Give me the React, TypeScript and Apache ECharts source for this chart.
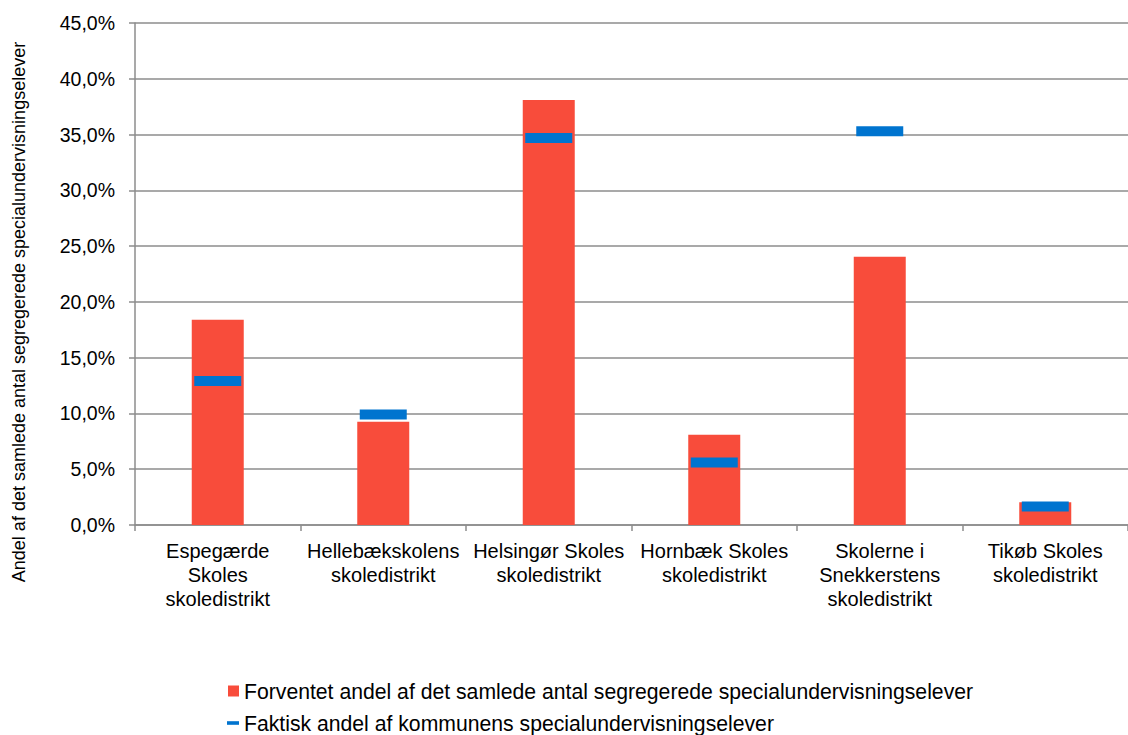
import React, { useEffect, useRef } from "react";
import * as echarts from "echarts";

const categories = [
  "Espegærde\nSkoles\nskoledistrikt",
  "Hellebækskolens\nskoledistrikt",
  "Helsingør Skoles\nskoledistrikt",
  "Hornbæk Skoles\nskoledistrikt",
  "Skolerne i\nSnekkerstens\nskoledistrikt",
  "Tikøb Skoles\nskoledistrikt",
];
const expected = [18.4, 9.25, 38.1, 8.1, 24.05, 2.05];
const actual = [12.9, 9.9, 34.7, 5.6, 35.3, 1.65];
const seriesNames = [
  "Forventet andel af det samlede antal segregerede specialundervisningselever",
  "Faktisk andel af kommunens specialundervisningselever",
];
const yTitle = "Andel af det samlede antal segregerede specialundervisningselever";

const FONT = "'Liberation Sans', Arial, sans-serif";

export default function App() {
  const ref = useRef<HTMLDivElement>(null);
  useEffect(() => {
    document.body.style.margin = "0";
    const chart = echarts.init(ref.current!, null, { renderer: "svg" });
    const legendText = { color: "#000", fontSize: 21.2, fontFamily: FONT, lineHeight: 22 };
    chart.setOption({
      animation: false,
      textStyle: { fontFamily: FONT },
      grid: { left: 135, right: -7, top: 23, bottom: 210 },
      xAxis: {
        type: "category",
        data: categories,
        boundaryGap: true,
        axisLine: { lineStyle: { color: "#8c8c8c", width: 1.5 } },
        axisTick: { show: true, length: 6, lineStyle: { color: "#8c8c8c", width: 1.5 } },
        axisLabel: {
          color: "#000",
          fontSize: 20,
          fontFamily: FONT,
          lineHeight: 24,
          margin: 14,
          interval: 0,
        },
      },
      yAxis: {
        type: "value",
        min: 0,
        max: 45,
        interval: 5,
        axisLine: { show: true, lineStyle: { color: "#8c8c8c", width: 1.5 } },
        axisTick: { show: true, length: 6, lineStyle: { color: "#8c8c8c", width: 1.5 } },
        splitLine: { show: true, lineStyle: { color: "#8c8c8c", width: 1.5 } },
        axisLabel: {
          color: "#000",
          fontSize: 19.5,
          fontFamily: FONT,
          margin: 20,
          formatter: (v: number) => v.toFixed(1).replace(".", ",") + "%",
        },
      },
      legend: [
        {
          orient: "horizontal",
          left: 228,
          top: 680,
          padding: 0,
          itemWidth: 11,
          itemHeight: 11,
          textStyle: legendText,
          data: [{ name: seriesNames[0], icon: "rect" }],
        },
        {
          orient: "horizontal",
          left: 227,
          top: 712,
          padding: 0,
          itemWidth: 12,
          itemHeight: 12,
          textStyle: legendText,
          data: [{ name: seriesNames[1], icon: "path://M0,0h10v3h-10z" }],
        },
      ],
      graphic: [
        {
          type: "text",
          x: 19,
          y: 312,
          rotation: Math.PI / 2,
          style: {
            text: yTitle,
            fontSize: 18,
            fontFamily: FONT,
            fill: "#000",
            align: "center",
            verticalAlign: "middle",
          },
        },
      ],
      series: [
        {
          name: seriesNames[0],
          type: "bar",
          data: expected,
          barWidth: 52,
          itemStyle: { color: "#F84C3B" },
        },
        {
          name: seriesNames[1],
          type: "scatter",
          data: actual,
          symbol: "rect",
          symbolSize: [47, 10],
          itemStyle: { color: "#0074CF", opacity: 1 },
          z: 5,
        },
      ],
    });
    return () => chart.dispose();
  }, []);
  return <div ref={ref} style={{ width: 1128, height: 735 }} />;
}
